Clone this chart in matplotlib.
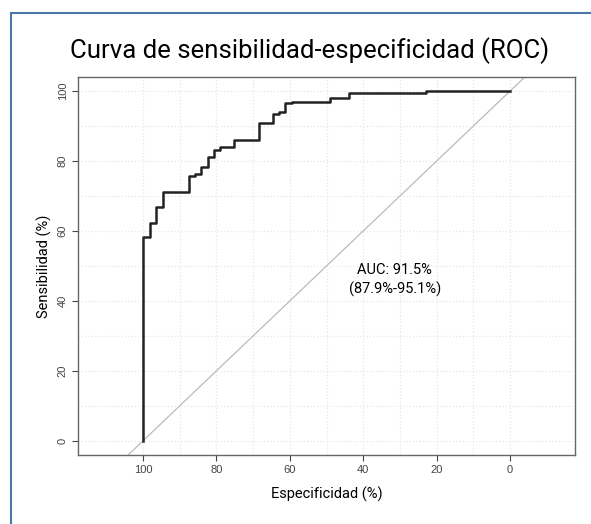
import matplotlib.pyplot as plt
from matplotlib.patches import Rectangle

# ROC curve steps (specificity %, sensitivity %)
specificity = [100, 100, 98.0, 98.0, 96.4, 96.4, 94.6, 94.6, 87.5, 87.5, 85.9, 85.9,
               84.1, 84.1, 82.4, 82.4, 80.7, 80.7, 78.9, 78.9, 75.3, 75.3, 68.4, 68.4,
               64.7, 64.7, 63.0, 63.0, 61.3, 61.3, 59.5, 59.5, 49.0, 49.0, 43.8, 43.8,
               23.0, 23.0, 0]
sensitivity = [0, 58.4, 58.4, 62.3, 62.3, 66.9, 66.9, 71.2, 71.2, 75.6, 75.6, 76.2,
               76.2, 78.2, 78.2, 81.1, 81.1, 83.1, 83.1, 84.1, 84.1, 86.1, 86.1, 91.0,
               91.0, 93.5, 93.5, 94.0, 94.0, 96.5, 96.5, 96.8, 96.8, 97.9, 97.9, 99.4,
               99.4, 100, 100]
ticks = [0, 20, 40, 60, 80, 100]
auc_text = 'AUC: 91.5%\n(87.9%-95.1%)'

fig = plt.figure(figsize=(5.91, 5.24), dpi=100)
ax = fig.add_axes([0.132, 0.132, 0.841, 0.721])

# blue outer frame
fig.patches.append(Rectangle((11 / 591, -0.05), 1.1, 1 - 13 / 524 + 0.05,
                             transform=fig.transFigure, fill=False,
                             edgecolor='#4a76a8', linewidth=1.5))

for v in range(0, 101, 10):
    ax.axvline(v, color='#e6e6e6', linestyle=':', linewidth=0.9, zorder=0)
    ax.axhline(v, color='#e6e6e6', linestyle=':', linewidth=0.9, zorder=0)

ax.axline((100, 0), (0, 100), color='#bbbbbb', linewidth=0.9, zorder=1)
ax.plot(specificity, sensitivity, color='#222222', linewidth=1.8, zorder=2)

ax.set_xlim(117.7, -17.7)
ax.set_ylim(-4, 104)
ax.set_xticks(ticks)
ax.set_yticks(ticks)
ax.tick_params(labelsize=8, colors='#444444', length=4, width=0.8,
               labelfontfamily='Liberation Sans')
for lbl in ax.get_yticklabels():
    lbl.set_rotation(90)
    lbl.set_va('center')
for s in ax.spines.values():
    s.set_color('#666666')
    s.set_linewidth(1.0)

ax.text(31.4, 46, auc_text, ha='center', va='center', fontsize=10.5,
        family='Roboto', linespacing=1.4)

ax.set_xlabel('Especificidad (%)', fontsize=10.5, family='Roboto', labelpad=8)
ax.set_ylabel('Sensibilidad (%)', fontsize=10.5, family='Roboto', labelpad=4)
fig.text(0.524, 0.903, 'Curva de sensibilidad-especificidad (ROC)', ha='center',
         va='center', fontsize=18.5, family='Roboto')

fig.savefig('out.png', dpi=100)
